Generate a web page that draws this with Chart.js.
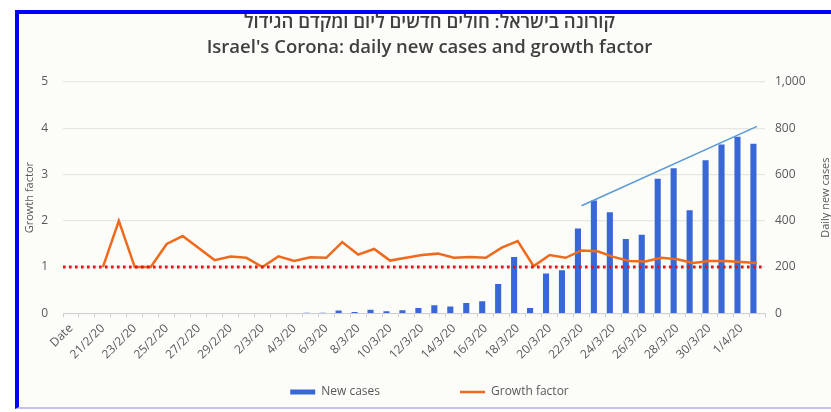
<!DOCTYPE html>
<html lang="en">
<head>
  <meta charset="UTF-8">
  <title>Israel's Corona: daily new cases and growth factor</title>
  <script src="https://cdn.jsdelivr.net/npm/chart.js"></script>
  <style>
    body {
      margin: 0;
      background: #fff;
      width: 831px;
      height: 412px;
      overflow: hidden;
      position: relative;
    }
    #frame {
      position: absolute;
      left: 15px;
      top: 10px;
      width: 900px;
      height: 393px;
      background: #fcfcf8;
      border-left: 4px solid #0000ff;
      border-top: 4px solid #0000ff;
      border-bottom: 2px solid #c9c1f2;
    }
    #box {
      position: absolute;
      left: 19px;
      top: 4px;
      width: 834px;
      height: 402px;
    }
  </style>
</head>
<body>
<div id="frame"></div>
<div id="box"><canvas id="grafico"></canvas></div>

<script>
  // categories (one per day, first one is the "Date" header cell)
  const categories = [
    'Date',
    '20/2/20', '21/2/20', '22/2/20', '23/2/20', '24/2/20', '25/2/20', '26/2/20', '27/2/20', '28/2/20', '29/2/20',
    '1/3/20', '2/3/20', '3/3/20', '4/3/20', '5/3/20', '6/3/20', '7/3/20', '8/3/20', '9/3/20', '10/3/20',
    '11/3/20', '12/3/20', '13/3/20', '14/3/20', '15/3/20', '16/3/20', '17/3/20', '18/3/20', '19/3/20', '20/3/20',
    '21/3/20', '22/3/20', '23/3/20', '24/3/20', '25/3/20', '26/3/20', '27/3/20', '28/3/20', '29/3/20', '30/3/20',
    '31/3/20', '1/4/20', '2/4/20'
  ];

  const newCases = [
    0, 0, 0, 0, 0, 0, 0, 0, 0, 0,
    0, 0, 0, 0, 0, 2, 3, 12, 6, 16,
    9, 13, 23, 35, 30, 45, 52, 127, 243, 23,
    172, 186, 367, 488, 437, 321, 340, 582, 627, 446,
    662, 730, 763, 733
  ];

  const growthFactor = [
    null, null, 1.0, 2.0, 1.0, 1.0, 1.5, 1.67, 1.41, 1.15,
    1.23, 1.2, 1.0, 1.23, 1.13, 1.21, 1.2, 1.54, 1.27, 1.39,
    1.14, 1.2, 1.26, 1.29, 1.2, 1.22, 1.2, 1.42, 1.56, 1.02,
    1.26, 1.2, 1.36, 1.34, 1.22, 1.13, 1.12, 1.2, 1.17, 1.09,
    1.13, 1.13, 1.11, 1.09
  ];

  // hand drawn trend line over the last bars (start / end)
  const trendIndex = [32, 43];
  const trendValues = [465, 808];

  // growth factor = 1 reference line
  const refLevel = 1;

  const leftTicks = [0, 1, 2, 3, 4, 5];
  const rightTicks = [0, 200, 400, 600, 800, 1000];

  const trend = categories.map(() => null);
  trendIndex.forEach((idx, k) => { trend[idx] = trendValues[k]; });

  const grey = '#595959';
  const fontFam = '"Open Sans", "Noto Sans", sans-serif';

  // right axis title reads bottom-to-top like the left one
  const rightTitle = {
    id: 'rightTitle',
    afterDraw(chart) {
      const s = chart.scales.y1;
      const c = chart.ctx;
      c.save();
      c.translate(s.right - 14, (s.top + s.bottom) / 2);
      c.rotate(-Math.PI / 2);
      c.font = '11px ' + fontFam;
      c.fillStyle = grey;
      c.textAlign = 'center';
      c.textBaseline = 'middle';
      c.fillText('Daily new cases', 0, 0);
      c.restore();
    }
  };

  const ctx = document.getElementById('grafico').getContext('2d');

  new Chart(ctx, {
    type: 'bar',
    data: {
      labels: categories,
      datasets: [
        {
          type: 'bar',
          label: 'New cases',
          data: newCases,
          yAxisID: 'y1',
          backgroundColor: '#3867d6',
          categoryPercentage: 0.9,
          barPercentage: 0.85,
          pointStyle: 'rect',
          order: 4
        },
        {
          type: 'line',
          label: 'Growth factor',
          data: growthFactor,
          yAxisID: 'y',
          borderColor: '#ef6a1c',
          backgroundColor: '#ef6a1c',
          borderWidth: 2.5,
          pointRadius: 0,
          pointStyle: 'line',
          tension: 0,
          order: 2
        },
        {
          type: 'line',
          label: 'ref',
          data: [{ x: 0, y: refLevel }, { x: 1, y: refLevel }],
          xAxisID: 'xr',
          yAxisID: 'y',
          borderColor: '#e3141c',
          borderWidth: 3,
          borderDash: [2.6, 3.4],
          pointRadius: 0,
          order: 1
        },
        {
          type: 'line',
          label: 'trend',
          data: trend,
          yAxisID: 'y1',
          borderColor: '#5b9bd5',
          borderWidth: 1.6,
          pointRadius: 0,
          spanGaps: true,
          order: 1
        }
      ]
    },
    options: {
      responsive: true,
      maintainAspectRatio: false,
      animation: false,
      layout: { padding: { left: 0, right: 13, top: 0, bottom: -2 } },
      plugins: {
        title: {
          display: true,
          text: ['קורונה בישראל: חולים חדשים ליום ומקדם הגידול', "Israel's Corona: daily new cases and growth factor"],
          color: '#404040',
          font: { family: fontFam, size: 18.5, weight: '600', lineHeight: 1.35 },
          padding: { top: 6, bottom: 22 }
        },
        legend: {
          position: 'bottom',
          labels: {
            color: grey,
            font: { family: fontFam, size: 12 },
            usePointStyle: true,
            pointStyleWidth: 25,
            boxHeight: 5,
            padding: 20,
            filter: (item) => item.datasetIndex < 2,
            sort: (a, b) => a.datasetIndex - b.datasetIndex,
            generateLabels(chart) {
              const items = Chart.defaults.plugins.legend.labels.generateLabels(chart);
              items.forEach(it => { if (it.datasetIndex === 0) it.text += '\u2003\u2003\u2003\u2003\u2003'; });
              return items;
            }
          }
        },
        tooltip: { enabled: false }
      },
      scales: {
        x: {
          offset: true,
          grid: {
            display: true,
            drawOnChartArea: false,
            offset: true,
            tickLength: 4,
            color: '#d0d0d0'
          },
          border: { display: true, color: '#d0d0d0' },
          ticks: {
            autoSkip: false,
            maxRotation: 45,
            minRotation: 45,
            padding: 4,
            color: grey,
            font: { family: fontFam, size: 12 },
            callback: (v, i) => (i % 2 === 0 ? categories[i] : '')
          }
        },
        xr: {
          type: 'linear',
          display: false,
          min: 0,
          max: 1,
          offset: false
        },
        y: {
          position: 'left',
          min: leftTicks[0],
          max: leftTicks[leftTicks.length - 1],
          afterFit: (s) => { s.width = 44; },
          ticks: {
            stepSize: 1,
            padding: 15,
            color: grey,
            font: { family: fontFam, size: 12 }
          },
          grid: { color: '#e6e6e2', lineWidth: 1.3, drawTicks: false },
          border: { display: false },
          title: {
            display: true,
            text: 'Growth factor',
            color: grey,
            font: { family: fontFam, size: 11 },
            padding: { top: 4, bottom: 0 }
          }
        },
        y1: {
          position: 'right',
          min: rightTicks[0],
          max: rightTicks[rightTicks.length - 1],
          afterFit: (s) => { s.width = 75; },
          ticks: {
            stepSize: 200,
            padding: 10,
            color: grey,
            font: { family: fontFam, size: 12 }
          },
          grid: { display: false, drawTicks: false },
          border: { display: false }
        }
      }
    },
    plugins: [rightTitle]
  });
</script>

</body>
</html>
